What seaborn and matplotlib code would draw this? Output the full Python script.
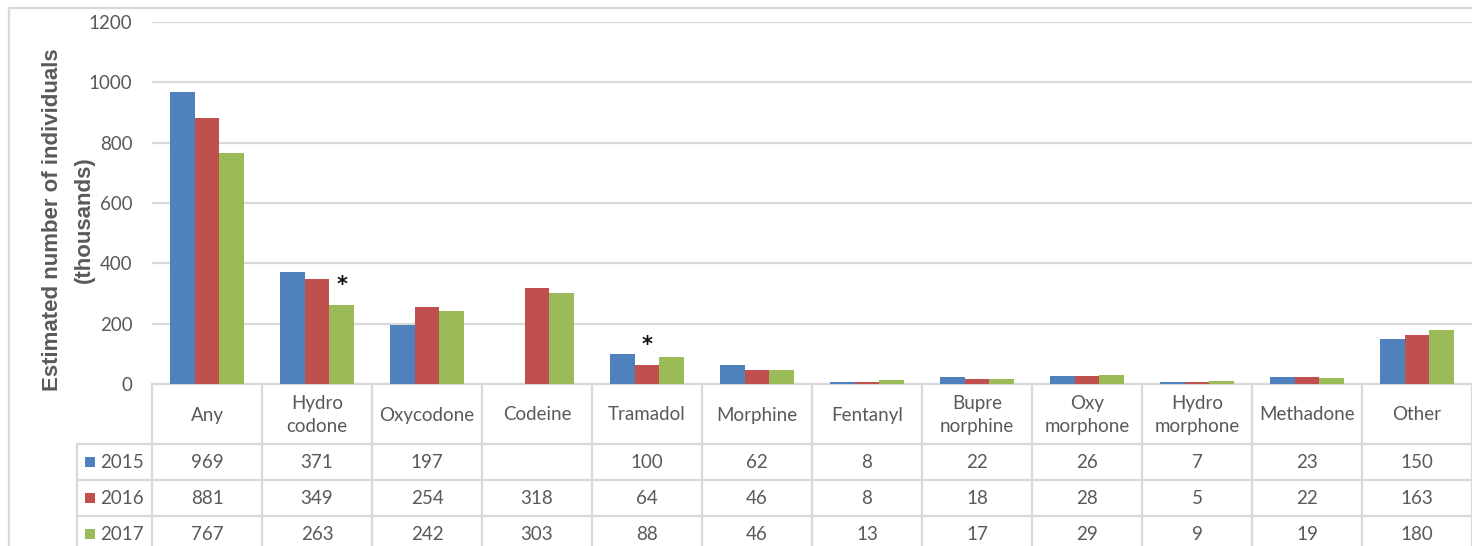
import matplotlib
matplotlib.use("Agg")
import matplotlib.pyplot as plt
import seaborn as sns
import pandas as pd
import numpy as np
from matplotlib.transforms import blended_transform_factory
from matplotlib.patches import Rectangle

# ---- data -------------------------------------------------------------
categories = ["Any", "Hydro\ncodone", "Oxycodone", "Codeine", "Tramadol",
              "Morphine", "Fentanyl", "Bupre\nnorphine", "Oxy\nmorphone",
              "Hydro\nmorphone", "Methadone", "Other"]
years = ["2015", "2016", "2017"]
values_2015 = [969, 371, 197, np.nan, 100, 62, 8, 22, 26, 7, 23, 150]
values_2016 = [881, 349, 254, 318, 64, 46, 8, 18, 28, 5, 22, 163]
values_2017 = [767, 263, 242, 303, 88, 46, 13, 17, 29, 9, 19, 180]
# bars flagged with an asterisk (category index, year)
flagged = [(1, "2017"), (4, "2016")]
title_lines = ["Estimated number of individuals", "(thousands)"]

colors = ["#4F81BD", "#C0504D", "#9BBB59"]
grid_col = "#D9D9D9"
text_col = "#595959"

series = {"2015": values_2015, "2016": values_2016, "2017": values_2017}
df = pd.DataFrame([
    {"drug": c, "year": y, "value": series[y][i]}
    for y in years for i, c in enumerate(categories)
])

# ---- figure -----------------------------------------------------------
sns.set_theme(style="white")
plt.rcParams["font.family"] = ["Lato", "DejaVu Sans"]

W, H = 1472, 546
fig = plt.figure(figsize=(W / 100, H / 100), dpi=100)

plot_left, plot_right, plot_top, plot_bottom = 152, 1472, 22, 384
ax = fig.add_axes([plot_left / W, 1 - plot_bottom / H,
                   (plot_right - plot_left) / W, (plot_bottom - plot_top) / H])

group_width = 0.675
sns.barplot(data=df, x="drug", y="value", hue="year", order=categories,
            hue_order=years, palette=colors, saturation=1, width=group_width,
            errorbar=None, linewidth=0, legend=False, ax=ax, zorder=3)

ax.set_xlim(-0.5, len(categories) - 0.5)
ax.set_ylim(0, 1200)
ax.set_yticks(range(0, 1201, 200))
ax.set_xticks([])
ax.set_xlabel("")
ax.set_ylabel("")
ax.tick_params(axis="y", length=0, pad=14, labelsize=13.5, labelcolor=text_col)
ax.yaxis.grid(True, color=grid_col, linewidth=1.6)
ax.set_axisbelow(True)
for s in ["top", "right", "left"]:
    ax.spines[s].set_visible(False)
ax.spines["bottom"].set_color(grid_col)
ax.spines["bottom"].set_linewidth(1.6)

# asterisks above flagged bars
n = len(years)
for i, yr in flagged:
    k = years.index(yr)
    xpos = i - group_width / 2 + group_width / n * (k + 0.5)
    ax.annotate("*", xy=(xpos, series[yr][i]), xytext=(0, 14),
                textcoords="offset points", ha="center", va="center",
                fontsize=15, fontweight="bold", color="#111111",
                annotation_clip=False, family=["DejaVu Sans"])

# ---- overlay in pixel coordinates for table and frame --------------------
pix = fig.add_axes([0, 0, 1, 1], zorder=-1)
pix.set_xlim(0, W)
pix.set_ylim(H, 0)
pix.axis("off")
catx = blended_transform_factory(ax.transData, pix.transData)

line_kw = dict(color=grid_col, linewidth=1.6, clip_on=False)

# chart frame
pix.plot([9, 9], [8, H], **line_kw)
pix.plot([9, W], [8, 8], **line_kw)

header_top, row_h, header_bottom = plot_bottom, 36, 444
legend_left = 77
row_lines = [header_bottom + r * row_h for r in range(n)]

for r in row_lines:
    pix.plot([legend_left, W], [r, r], **line_kw)
pix.plot([legend_left, legend_left], [header_bottom, H], **line_kw)
for b in np.arange(len(categories) + 1) - 0.5:
    pix.plot([b, b], [header_top, H], transform=catx, **line_kw)

# category names
for i, c in enumerate(categories):
    pix.text(i, (header_top + header_bottom) / 2 + 1, c, transform=catx,
             ha="center", va="center", fontsize=13.5, color=text_col,
             linespacing=1.4)

# value rows
for k, yr in enumerate(years):
    yc = header_bottom + row_h * (k + 0.5)
    pix.add_patch(Rectangle((85, yc - 5), 10, 10, color=colors[k], lw=0))
    pix.text(100, yc, yr, ha="left", va="center", fontsize=13.5, color=text_col)
    for i, v in enumerate(series[yr]):
        if not np.isnan(v):
            pix.text(i, yc, f"{int(v)}", transform=catx, ha="center",
                     va="center", fontsize=13.5, color=text_col)

# axis title, one rotated text per line
for xc, line in zip([53, 84], title_lines):
    pix.text(xc, 220, line, rotation=90, ha="center", va="center",
             fontsize=16, fontweight="bold", color=text_col,
             family=["Liberation Sans", "DejaVu Sans"])

fig.savefig("out.png", dpi=100)
